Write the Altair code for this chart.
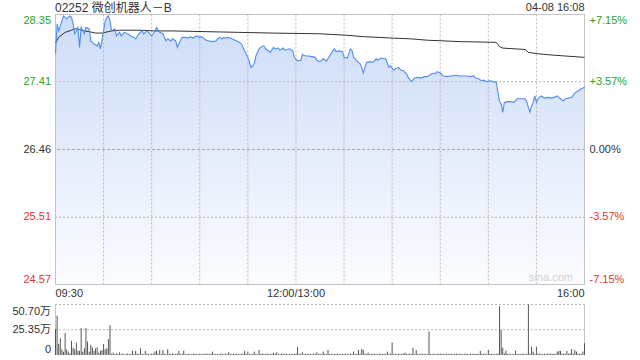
import altair as alt
import pandas as pd

# ---------------- data ----------------
title_text = "02252 微创机器人－B"
stamp_text = "04-08 16:08"
watermark_text = "sina.com"

# minute index since 09:30 (lunch break removed: 150 = 12:00/13:00, 330 = 16:00)
price_minutes = [0, 1, 2, 3, 5, 7, 9, 10, 11, 12, 14, 15, 16, 18, 19, 21, 22, 24, 26, 27, 28, 30, 31, 32, 33, 34, 35, 37, 38, 40,
                 41, 43, 45, 47, 49, 50, 52, 54, 55, 57, 58, 60, 62, 63, 65, 67, 69, 70, 72, 73, 75, 76, 77, 79, 81, 83, 84, 86, 88, 90,
                 91, 94, 96, 98, 100, 102, 104, 105, 106, 108, 110, 112, 114, 116, 118, 120, 121, 122, 124, 125, 127, 129, 130, 131, 133, 134, 136, 137, 139, 140,
                 142, 143, 146, 148, 149, 151, 153, 154, 156, 158, 160, 162, 163, 165, 167, 169, 171, 173, 174, 175, 177, 179, 180, 182, 183, 184, 185, 186, 188, 190,
                 191, 192, 193, 194, 196, 198, 200, 201, 203, 205, 206, 208, 209, 211, 212, 214, 215, 217, 219, 220, 222, 224, 226, 228, 230, 232, 234, 236, 237, 238,
                 240, 242, 244, 247, 250, 252, 254, 257, 259, 261, 262, 264, 266, 267, 269, 271, 273, 275, 276, 277, 278, 279, 280, 281, 282, 284, 286, 288, 290, 293,
                 294, 295, 296, 297, 298, 299, 300, 301, 303, 305, 307, 309, 311, 313, 315, 317, 318, 320, 322, 324, 326, 328, 330]
price_values = [27.80, 28.22, 28.12, 28.19, 28.33, 28.29, 28.33, 28.31, 28.22, 28.08, 28.17, 27.89, 28.17, 28.08, 28.17, 28.15, 27.98, 27.94, 27.91, 27.96, 27.87, 28.12, 28.26, 28.31, 28.33, 28.26, 28.12, 28.15, 28.05, 28.10,
                28.05, 28.10, 28.08, 28.05, 28.03, 28.01, 28.08, 28.12, 28.08, 28.12, 28.10, 28.05, 28.12, 28.17, 28.10, 28.08, 27.98, 28.01, 27.98, 28.01, 27.98, 27.89, 27.94, 28.03, 28.03, 28.02, 28.04, 28.02, 28.05, 28.03,
                28.04, 27.99, 27.98, 27.97, 27.98, 28.03, 28.01, 28.03, 28.02, 28.03, 28.01, 27.99, 27.97, 27.94, 27.84, 27.75, 27.68, 27.61, 27.66, 27.77, 27.87, 27.91, 27.91, 27.87, 27.84, 27.82, 27.89, 27.87, 27.88, 27.85,
                27.88, 27.85, 27.87, 27.84, 27.75, 27.70, 27.71, 27.79, 27.77, 27.77, 27.76, 27.75, 27.71, 27.69, 27.73, 27.70, 27.77, 27.84, 27.87, 27.83, 27.84, 27.83, 27.75, 27.74, 27.81, 27.87, 27.84, 27.75, 27.70, 27.66,
                27.61, 27.53, 27.61, 27.68, 27.69, 27.68, 27.73, 27.71, 27.74, 27.73, 27.73, 27.61, 27.63, 27.57, 27.59, 27.61, 27.58, 27.56, 27.52, 27.47, 27.41, 27.46, 27.47, 27.46, 27.48, 27.48, 27.51, 27.53, 27.52, 27.55,
                27.53, 27.49, 27.48, 27.49, 27.50, 27.49, 27.49, 27.49, 27.48, 27.49, 27.46, 27.45, 27.42, 27.43, 27.41, 27.42, 27.41, 27.40, 27.26, 27.13, 27.10, 26.98, 27.12, 27.12, 27.13, 27.13, 27.12, 27.17, 27.17, 27.17,
                27.13, 27.05, 26.98, 27.07, 27.12, 27.21, 27.12, 27.17, 27.21, 27.18, 27.19, 27.18, 27.19, 27.21, 27.17, 27.14, 27.17, 27.18, 27.19, 27.25, 27.28, 27.31, 27.33]

avg_minutes = [0, 2, 6, 10, 12, 15, 18, 21, 25, 29, 31, 35, 40, 52, 62, 73, 94, 114, 135, 165,
               181, 192, 210, 221, 232, 253, 275, 277, 279, 293, 295, 301, 311, 330]
avg_values = [27.95, 28.03, 28.10, 28.13, 28.15, 28.14, 28.12, 28.11, 28.09, 28.09, 28.10, 28.12, 28.13, 28.13, 28.12, 28.12, 28.11, 28.10, 28.09, 28.08,
              28.06, 28.04, 28.02, 28.01, 27.99, 27.97, 27.96, 27.90, 27.88, 27.86, 27.82, 27.80, 27.78, 27.75]

# volume per minute (万 shares), minutes 0..330
volume_values = [
    26.0, 39.5, 11.2, 16.9, 5.7, 3.3, 22.0, 5.7, 3.4, 1.7,
    14.2, 7.4, 5.7, 12.5, 4.3, 4.3, 27.0, 3.3, 6.7, 27.0,
    13.5, 3.3, 10.1, 7.7, 4.3, 6.7, 7.7, 2.4, 4.3, 5.0,
    11.2, 5.7, 6.7, 15.8, 29.8, 1.2, 2.4, 0.8, 1.7, 1.0,
    2.7, 0.9, 1.3, 0.7, 1.1, 1.5, 0.8, 1.2, 4.4, 1.0,
    4.1, 1.4, 0.9, 6.7, 1.2, 0.8, 4.1, 1.3, 1.0, 0.7,
    1.5, 1.1, 3.4, 4.4, 1.2, 5.1, 0.9, 5.1, 1.3, 0.8,
    5.7, 1.2, 1.0, 1.6, 0.8, 1.1, 1.4, 4.1, 0.9, 1.2,
    4.4, 1.0, 0.8, 1.3, 1.1, 0.7, 1.5, 1.2, 0.9, 1.0,
    1.4, 0.8, 1.2, 1.0, 1.6, 0.9, 1.1, 1.3, 3.4, 0.8,
    1.2, 1.0, 0.7, 1.4, 1.1, 0.9, 1.5, 1.0, 2.7, 1.2,
    0.8, 1.3, 1.0, 1.6, 0.9, 1.2, 1.1, 1.4, 4.1, 1.0,
    3.4, 0.9, 1.2, 1.0, 3.4, 1.3, 0.8, 5.1, 1.1, 1.5,
    1.0, 0.9, 1.4, 1.2, 0.8, 1.1, 2.4, 1.3, 2.7, 1.0,
    0.9, 1.5, 1.2, 1.0, 1.4, 0.8, 1.1, 1.3, 1.0, 1.2,
    1.6, 8.1, 1.0, 1.2, 2.7, 0.9, 1.3, 1.1, 1.4, 1.0,
    0.8, 1.5, 1.2, 2.7, 1.0, 1.3, 0.9, 3.4, 1.2, 1.0,
    5.1, 1.1, 1.4, 0.8, 1.2, 1.0, 1.5, 0.9, 1.3, 1.1,
    1.0, 1.4, 1.2, 0.8, 1.6, 1.1, 3.4, 1.0, 1.3, 5.1,
    1.2, 6.1, 5.1, 1.4, 1.0, 2.4, 0.9, 1.2, 1.1, 1.3,
    1.0, 0.8, 1.5, 1.2, 1.0, 1.4, 0.9, 3.4, 1.1, 1.3,
    12.5, 1.0, 1.2, 0.8, 1.4, 1.1, 1.0, 1.3, 2.4, 1.2,
    0.9, 1.5, 1.1, 7.1, 1.0, 5.1, 1.3, 0.8, 1.2, 1.4,
    1.0, 1.1, 0.9, 23.7, 1.2, 1.0, 1.4, 0.8, 1.3, 1.1,
    1.5, 1.0, 1.2, 0.9, 1.4, 1.1, 1.0, 1.3, 0.8, 1.2,
    1.6, 1.0, 1.1, 1.3, 0.9, 1.2, 1.4, 1.0, 0.8, 1.5,
    1.1, 1.2, 1.0, 1.3, 0.9, 4.1, 1.2, 1.0, 1.4, 0.8,
    5.1, 1.1, 1.3, 1.0, 0.9, 1.2, 1.4, 49.0, 25.4, 7.4,
    1.6, 4.4, 1.2, 1.0, 1.3, 0.9, 1.1, 4.4, 1.0, 1.2,
    0.8, 1.4, 1.1, 1.0, 1.3, 50.7, 1.2, 8.4, 3.4, 1.0,
    8.4, 1.2, 1.5, 1.0, 1.1, 1.3, 0.9, 1.4, 1.2, 1.6,
    1.0, 1.3, 1.1, 3.4, 4.1, 4.1, 1.2, 1.5, 1.0, 4.1,
    1.3, 1.6, 6.1, 1.2, 5.1, 3.4, 1.1, 1.4, 1.0, 3.4,
    11.8,
]
volume_minutes = list(range(len(volume_values)))

prev_close = 26.46
price_ticks = [28.35, 27.41, 26.46, 25.51, 24.57]
pct_labels = ["+7.15%", "+3.57%", "0.00%", "-3.57%", "-7.15%"]
vol_ticks = [50.70, 25.35, 0]
vol_labels = ["50.70万", "25.35万", "0"]
time_ticks = [0, 150, 330]
time_labels = ["09:30", "12:00/13:00", "16:00"]
grid_minutes = [30, 60, 90, 120, 150, 180, 210, 240, 270, 300]
edge_minutes = [0, 330]

# ---------------- styles ----------------
FONT = "'Liberation Sans', Arial, 'Noto Sans CJK SC', sans-serif"
GREEN = "#1ea51e"
RED = "#ee2f2f"
DARK = "#333333"
GRID = "#b8b8b8"
BORDER = "#c4c4c4"
LINE = "#4f8df0"

x_scale = alt.Scale(domain=[0, 330], range=[0.5, 529.5], nice=False, zero=False)
p_scale = alt.Scale(domain=[24.57, 28.35], range=[270.5, 0.5], nice=False, zero=False)
v_scale = alt.Scale(domain=[0, 50.70], range=[341, 290.5], nice=False, zero=False)
sign_scale = alt.Scale(domain=["up", "flat", "down"], range=[GREEN, DARK, RED])


def X(f):
    return alt.X(f, scale=x_scale, axis=None)


def YP(f):
    return alt.Y(f, scale=p_scale, axis=None)


def YV(f):
    return alt.Y(f, scale=v_scale, axis=None)


price_df = pd.DataFrame({"m": price_minutes, "p": price_values})
avg_df = pd.DataFrame({"m": avg_minutes, "p": avg_values})
vol_df = pd.DataFrame({"m": volume_minutes, "v": volume_values})
ticks_df = pd.DataFrame({"p": price_ticks, "pct": pct_labels})
vticks_df = pd.DataFrame({"v": vol_ticks, "lab": vol_labels})
time_df = pd.DataFrame({"m": time_ticks, "lab": time_labels})
grid_df = pd.DataFrame({"m": grid_minutes})
edge_df = pd.DataFrame({"m": edge_minutes})

grad = alt.Gradient(
    gradient="linear",
    stops=[alt.GradientStop(color="#cddcf8", offset=0),
           alt.GradientStop(color="#fbfcff", offset=1)],
    x1=0, x2=0, y1=0, y2=1,
)

layers = []

# price area fill
layers.append(alt.Chart(price_df).mark_area(color=grad).encode(
    x=X("m:Q"), y=YP("p:Q"), y2=alt.datum(price_ticks[4])))

# vertical dotted grid (price panel)
layers.append(alt.Chart(grid_df).mark_rule(color=GRID, strokeDash=[2, 2], strokeWidth=1).encode(
    x=X("m:Q"), y=alt.YDatum(price_ticks[0], scale=p_scale, axis=None), y2=alt.datum(price_ticks[4])))

# horizontal dotted grid
layers.append(alt.Chart(pd.DataFrame({"p": [price_ticks[1], price_ticks[3]]})).mark_rule(
    color=GRID, strokeDash=[2, 2], strokeWidth=1).encode(y=YP("p:Q")))
# zero line dashed
layers.append(alt.Chart(pd.DataFrame({"p": [price_ticks[2]]})).mark_rule(
    color="#a8a8a8", strokeDash=[3, 2], strokeWidth=1).encode(y=YP("p:Q")))
# top / bottom border
layers.append(alt.Chart(pd.DataFrame({"p": [price_ticks[0], price_ticks[4]]})).mark_rule(
    color=BORDER, strokeWidth=1).encode(y=YP("p:Q")))
# left / right border of price panel
layers.append(alt.Chart(edge_df).mark_rule(color=BORDER, strokeWidth=1).encode(
    x=X("m:Q"), y=alt.YDatum(price_ticks[0], scale=p_scale, axis=None), y2=alt.datum(price_ticks[4])))

# volume panel grid and borders
layers.append(alt.Chart(pd.DataFrame({"v": vol_ticks[:2]})).mark_rule(
    color=GRID, strokeDash=[2, 2], strokeWidth=1).encode(y=YV("v:Q")))
layers.append(alt.Chart(edge_df).mark_rule(color=BORDER, strokeWidth=1).encode(
    x=X("m:Q"), y=alt.YDatum(vol_ticks[0], scale=v_scale, axis=None), y2=alt.datum(0)))

# volume bars
layers.append(alt.Chart(vol_df).mark_rule(color="#555555", strokeWidth=1).encode(
    x=X("m:Q"), y=YV("v:Q"), y2=alt.datum(0)))

# average line
layers.append(alt.Chart(avg_df).mark_line(color="#333333", strokeWidth=1).encode(
    x=X("m:Q"), y=YP("p:Q")))
# price line
layers.append(alt.Chart(price_df).mark_line(color=LINE, strokeWidth=1.1).encode(
    x=X("m:Q"), y=YP("p:Q")))

sign_expr = "datum.p > 26.465 ? 'up' : (datum.p < 26.455 ? 'down' : 'flat')"


def price_labels(sub, baseline):
    base = alt.Chart(sub).transform_calculate(sign=sign_expr)
    left = base.mark_text(align="right", baseline=baseline, dx=-4, font=FONT, fontSize=11).encode(
        x=alt.value(0), y=YP("p:Q"), text=alt.Text("p:Q", format=".2f"),
        color=alt.Color("sign:N", scale=sign_scale, legend=None))
    right = base.mark_text(align="left", baseline=baseline, dx=5, font=FONT, fontSize=11).encode(
        x=alt.XDatum(330, scale=x_scale, axis=None), y=YP("p:Q"), text="pct:N",
        color=alt.Color("sign:N", scale=sign_scale, legend=None))
    return [left, right]


layers += price_labels(ticks_df.iloc[[0]], "top")
layers += price_labels(ticks_df.iloc[1:4], "middle")
layers += price_labels(ticks_df.iloc[[4]], "bottom")

# volume labels
for sub, bl, dy in [(vticks_df.iloc[[0]], "top", 1), (vticks_df.iloc[[1]], "middle", 0), (vticks_df.iloc[[2]], "bottom", 0)]:
    layers.append(alt.Chart(sub).mark_text(align="right", baseline=bl, dx=-4, dy=dy, font=FONT,
                                           fontSize=11, color=DARK).encode(
        x=alt.value(0), y=YV("v:Q"), text="lab:N"))

# time labels
for i, al in enumerate(["left", "center", "right"]):
    layers.append(alt.Chart(time_df.iloc[[i]]).mark_text(align=al, baseline="top", dy=3.5, font=FONT,
                                                         fontSize=11, color=DARK).encode(
        x=X("m:Q"), y=alt.YDatum(price_ticks[4], scale=p_scale, axis=None), text="lab:N"))

# title and timestamp
layers.append(alt.Chart(pd.DataFrame({"t": [title_text]})).mark_text(
    align="left", baseline="middle", font=FONT, fontSize=12, color=DARK).encode(
    x=alt.value(0), y=alt.value(-6.5), text="t:N"))
layers.append(alt.Chart(pd.DataFrame({"t": [stamp_text]})).mark_text(
    align="right", baseline="middle", font=FONT, fontSize=11, color=DARK).encode(
    x=alt.value(529.5), y=alt.value(-6.5), text="t:N"))
# watermark
layers.append(alt.Chart(pd.DataFrame({"t": [watermark_text]})).mark_text(
    align="center", baseline="middle", font=FONT, fontSize=11, color="#d2d2d2").encode(
    x=alt.value(496), y=alt.value(264), text="t:N"))

chart = alt.layer(*layers).resolve_scale(y="independent").properties(
    width=530, height=341,
    autosize=alt.AutoSizeParams(type="none"),
    padding={"left": 55, "top": 14, "right": 55, "bottom": 5},
    background="#ffffff",
).configure_view(strokeWidth=0)

chart.save("out.html", embed_options={"renderer": "svg", "actions": False})
